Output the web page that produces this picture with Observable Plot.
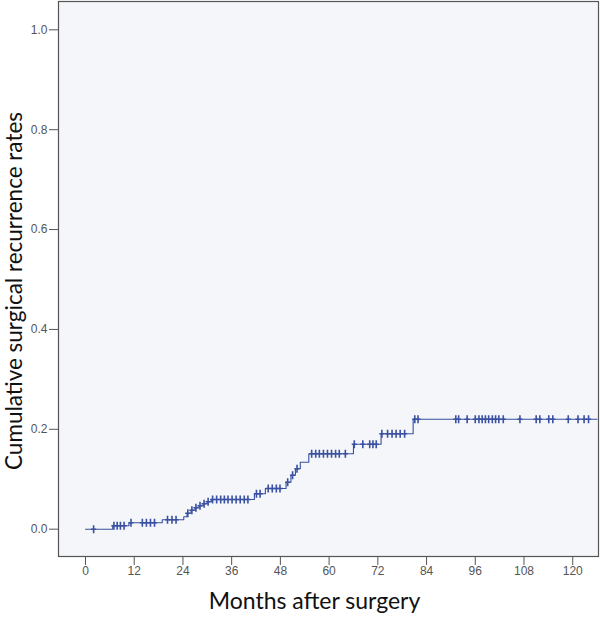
<!DOCTYPE html>
<html><head><meta charset="utf-8">
<script src="https://cdn.jsdelivr.net/npm/d3@7"></script>
<script src="https://cdn.jsdelivr.net/npm/@observablehq/plot@0.6"></script>
<style>html,body{margin:0;padding:0;background:#fff}#chart svg{display:block}</style>
</head><body><div id="chart"></div>
<script>
// Kaplan–Meier style cumulative curve: change points (months) and levels
const stepTimes  = [0, 6.7, 10.7, 18.9, 24.2, 25.0, 26.0, 27.0, 28.0, 29.0, 30.0, 31.0, 41.6, 44.3, 49.4, 50.6, 51.7, 52.9, 55.0, 66.0, 72.8, 80.7, 126];
const stepValues = [0, 0.007, 0.013, 0.019, 0.025, 0.032, 0.038, 0.043, 0.047, 0.051, 0.055, 0.0595, 0.071, 0.0815, 0.094, 0.108, 0.121, 0.134, 0.151, 0.170, 0.191, 0.220, 0.220];
// censored observations (months)
const censorTimes = [2.0, 7.0, 7.8, 8.6, 9.5, 11.2, 14.0, 15.0, 16.0, 17.0, 20.2, 21.3, 22.3,
  25.2, 26.2, 27.2, 28.2, 29.2, 30.2, 31.3, 32.3, 33.3, 34.2, 35.1, 36.1, 37.1, 38.1, 39.1, 40.0,
  42.1, 43.0, 45.0, 46.0, 47.0, 47.9, 49.8, 51.0, 52.1,
  55.7, 56.7, 57.6, 58.6, 59.6, 60.6, 61.6, 62.5, 64.0,
  66.2, 68.3, 70.0, 70.8, 71.6, 73.0, 74.4, 75.5, 76.5, 77.5, 78.6, 81.1, 81.9,
  91.2, 91.9, 94.0, 96.0, 96.9, 97.7, 98.5, 99.3, 100.2, 101.0, 101.8, 102.9,
  107.0, 111.0, 111.9, 114.1, 115.1, 118.9, 121.3, 122.8, 123.9];
const xTicks = [0, 12, 24, 36, 48, 60, 72, 84, 96, 108, 120];
const yTicks = [0, 0.2, 0.4, 0.6, 0.8, 1.0];
const xLabel = "Months after surgery";
const yLabel = "Cumulative surgical recurrence rates";

const curve = stepTimes.map((t, i) => ({t, v: stepValues[i]}));
const bis = d3.bisector(d => d.t).right;
const censors = censorTimes.map(t => ({t, v: curve[Math.max(0, bis(curve, t) - 1)].v}));

const lineColor = "#3a50a0";
const censorSymbol = {
  draw(ctx) { const h = 4, w = 2.6; ctx.moveTo(-w, 0); ctx.lineTo(w, 0); ctx.moveTo(0, -h); ctx.lineTo(0, h); }
};
const titleFont = "Lato, 'Open Sans', sans-serif";

const chart = Plot.plot({
  width: 600, height: 617,
  marginTop: 1, marginLeft: 58, marginRight: 2, marginBottom: 61,
  style: {fontFamily: "'Liberation Sans', Arial, sans-serif", fontSize: "12px", background: "#fff", overflow: "visible"},
  x: {domain: [-6.65, 126.35]},
  y: {domain: [-0.0547, 1.0567]},
  marks: [
    Plot.frame({fill: "#f4f6f9", stroke: null}),
    Plot.line(curve, {x: "t", y: "v", curve: "step-after", stroke: lineColor, strokeWidth: 1.1}),
    Plot.dot(censors, {x: "t", y: "v", symbol: censorSymbol, r: 3, fill: "none", stroke: lineColor, strokeWidth: 1.6}),
    Plot.axisX({ticks: xTicks, tickSize: 9, tickPadding: 1, label: null, color: "#555", fontSize: 12}),
    Plot.axisY({ticks: yTicks, tickFormat: d3.format(".1f"), tickSize: 9, tickPadding: 2, label: null, color: "#555", fontSize: 12}),
    Plot.frame({stroke: "#555", strokeWidth: 1.2}),
    Plot.text([xLabel], {frameAnchor: "bottom", lineAnchor: "bottom", textAnchor: "middle", dy: 52, dx: -14, fontSize: 23, fontFamily: titleFont, fill: "#111"}),
    Plot.text([yLabel], {frameAnchor: "left", lineAnchor: "top", textAnchor: "middle", rotate: -90, dx: -52, dy: 12, fontSize: 22.5, fontFamily: titleFont, fill: "#111"})
  ]
});
document.getElementById("chart").appendChild(chart);
</script>
</body></html>
